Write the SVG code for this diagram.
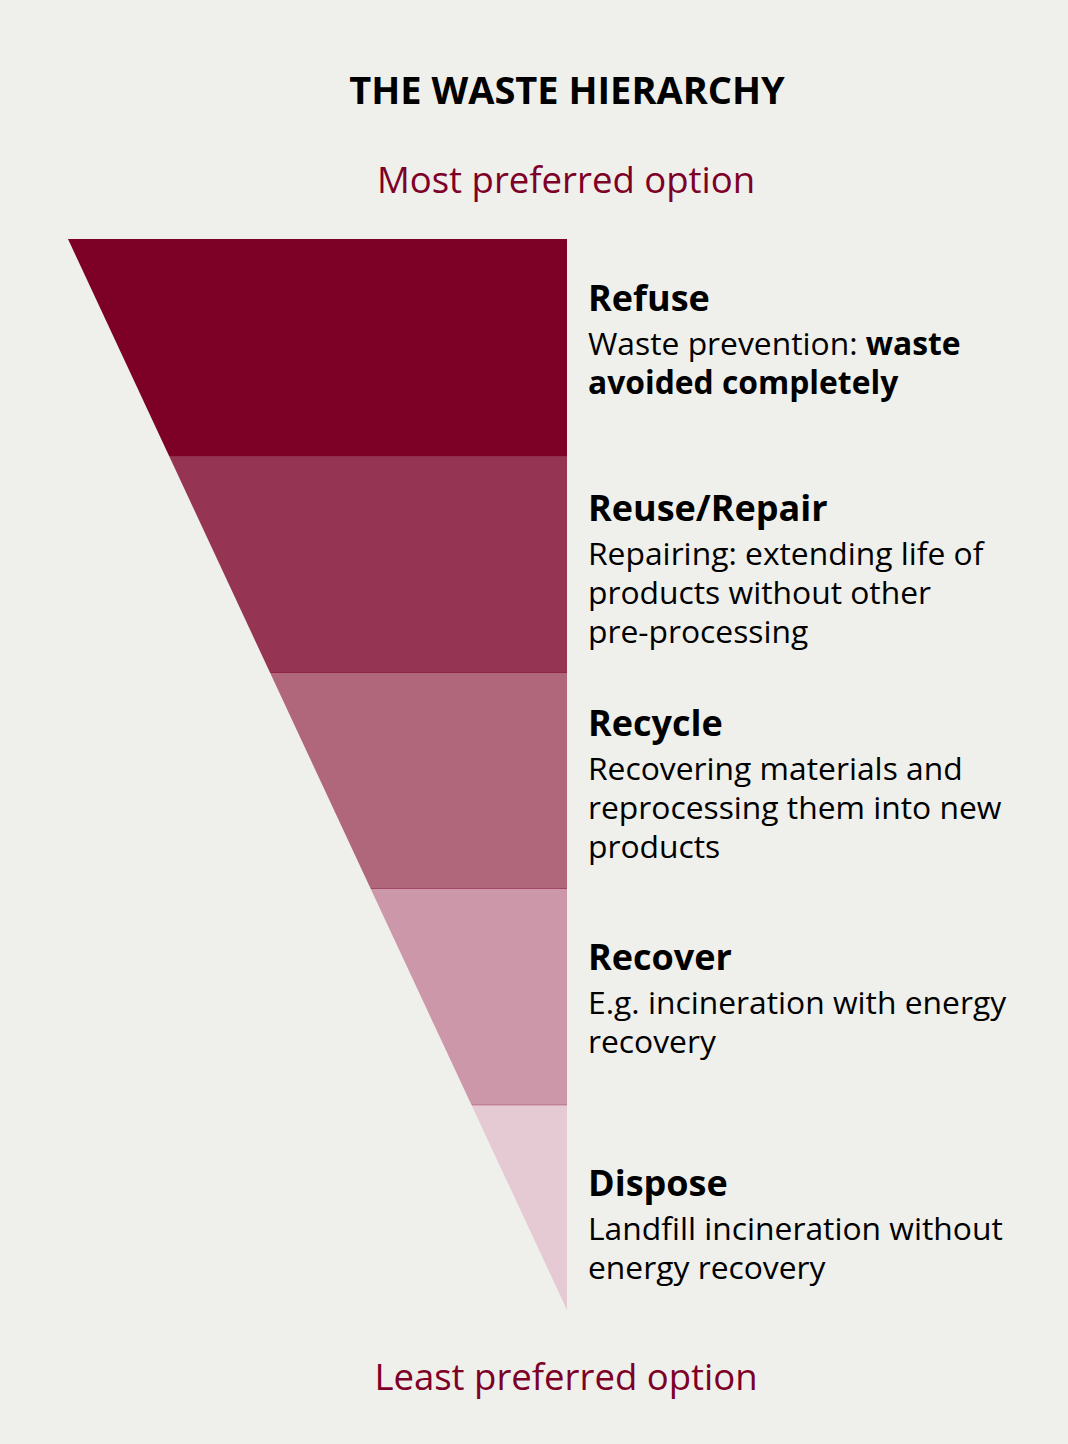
<svg xmlns="http://www.w3.org/2000/svg" width="1068" height="1444" viewBox="0 0 1068 1444">
<style>
.title{font-family:"Open Sans","Noto Sans",sans-serif;font-weight:700;font-size:38px;fill:#000;text-anchor:middle}
.pref{font-family:"Open Sans","Noto Sans",sans-serif;font-size:36.5px;fill:#7d0027;text-anchor:middle}
.head{font-family:"Open Sans","Noto Sans",sans-serif;font-weight:700;font-size:36px;fill:#000}
.body{font-family:"Open Sans","Noto Sans",sans-serif;font-size:31.8px;fill:#000}
.b{font-weight:700}
.sep{stroke:#7d0027;stroke-opacity:0.3;stroke-width:1}
</style>
<rect width="1068" height="1444" fill="#efefeb"/>
<text class="title" x="567" y="104">THE WASTE HIERARCHY</text>
<text class="pref" x="566" y="193">Most preferred option</text>
<g id="band-refuse"><polygon points="68,239 567,239 567,456 169.1,456" fill="#7d0027"/></g>
<g id="band-reuse"><polygon points="169.1,456 567,456 567,673 270.2,673" fill="#963453"/></g>
<g id="band-recycle"><polygon points="270.2,673 567,673 567,889 370.8,889" fill="#b0677b"/></g>
<g id="band-recover"><polygon points="370.8,889 567,889 567,1105 471.5,1105" fill="#cb97a9"/></g>
<g id="band-dispose"><polygon points="471.5,1105 567,1105 567,1310" fill="#e5cad4"/></g>
<g id="connectors">
<line class="sep" x1="170" y1="456" x2="567" y2="456"/>
<line class="sep" x1="271" y1="672.5" x2="567" y2="672.5"/>
<line class="sep" x1="371" y1="888.5" x2="567" y2="888.5"/>
<line class="sep" x1="472" y1="1105" x2="567" y2="1105"/>
</g>
<g id="text-refuse">
<text class="head" x="588" y="311">Refuse</text>
<text class="body" x="588" y="355">Waste prevention: <tspan class="b">waste</tspan></text>
<text class="body b" x="588" y="394">avoided completely</text>
</g>
<g id="text-reuse">
<text class="head" x="588" y="521">Reuse/Repair</text>
<text class="body" x="588" y="565">Repairing: extending life of</text>
<text class="body" x="588" y="604">products without other</text>
<text class="body" x="588" y="643">pre-processing</text>
</g>
<g id="text-recycle">
<text class="head" x="588" y="736">Recycle</text>
<text class="body" x="588" y="780">Recovering materials and</text>
<text class="body" x="588" y="819">reprocessing them into new</text>
<text class="body" x="588" y="858">products</text>
</g>
<g id="text-recover">
<text class="head" x="588" y="970">Recover</text>
<text class="body" x="588" y="1014">E.g. incineration with energy</text>
<text class="body" x="588" y="1053">recovery</text>
</g>
<g id="text-dispose">
<text class="head" x="588" y="1196">Dispose</text>
<text class="body" x="588" y="1240">Landfill incineration without</text>
<text class="body" x="588" y="1279">energy recovery</text>
</g>
<text class="pref" x="566" y="1390">Least preferred option</text>
</svg>
